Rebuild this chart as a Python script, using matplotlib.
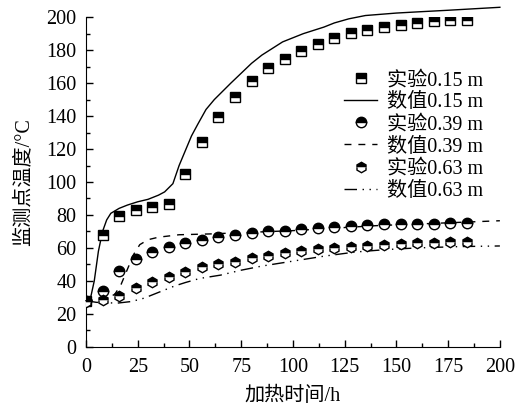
import numpy as np
import matplotlib
matplotlib.use('Agg')
import matplotlib.pyplot as plt
from matplotlib.ticker import MultipleLocator

plt.rcParams['font.family'] = ['Liberation Serif', 'Noto Sans CJK SC']
plt.rcParams['mathtext.fontset'] = 'stix'

# experimental measurements (sampled every 8 h)
t_exp = [0, 8, 16, 24, 32, 40, 48, 56, 64, 72, 80, 88, 96, 104,
         112, 120, 128, 136, 144, 152, 160, 168, 176, 184]
exp_015 = [28, 68, 79.5, 83, 85, 86.5, 105, 124.5, 139.5, 151.5, 161, 169,
           174.5, 179.5, 184, 187.5, 190.5, 192.5, 194, 195.5, 196.5, 197.5, 198, 198.5]
exp_039 = [28, 34, 46, 53.5, 57.5, 60.5, 63, 65, 66.5, 68, 69, 70,
           70.5, 71.5, 72, 72.5, 73.5, 74, 74.3, 74.5, 74.5, 74.7, 75, 75]
exp_063 = [27.5, 28.5, 31, 35.5, 39.2, 42.6, 45.6, 48.3, 50.1, 51.7, 54, 55.2,
           56.8, 58.2, 59.2, 59.8, 60.8, 61.2, 61.8, 62.4, 62.8, 63.2, 63.6, 63.6]

# numerical results
t_n015 = [0, 2, 4, 6, 8, 10, 12, 16, 20, 25, 30, 35, 38, 42, 45, 48, 51, 54,
          58, 62, 66, 70, 75, 80, 85, 90, 95, 100, 105, 110, 115, 120, 127,
          135, 150, 160, 175, 200]
num_015 = [28, 28.5, 40, 58, 70, 77, 81, 84, 86, 88, 89.5, 92, 94, 99, 110,
           119, 128, 135, 144, 150, 155, 160, 166, 172, 177, 181, 185, 187.5,
           190, 192, 194, 196.5, 199, 201, 202.5, 203.2, 204.2, 206]
t_n039 = [0, 10, 14, 17, 20, 23, 26, 30, 35, 45, 60, 80, 100, 120, 140, 160, 180, 200]
num_039 = [28, 29, 32, 38, 47, 56, 62, 65, 66.5, 68, 68.5, 69.5, 70.5, 72,
           73.5, 74.5, 75.5, 76.5]
t_n063 = [0, 5, 15, 22, 28, 33, 38, 43, 48, 55, 65, 75, 85, 100, 115, 130,
          145, 160, 180, 200]
num_063 = [28, 27, 26.5, 27.5, 29.5, 32, 34.5, 37, 39, 41.5, 43.5, 46.5, 49,
           52, 55, 57.5, 59, 60, 60.8, 61.2]

fig = plt.figure(figsize=(5.18, 4.09), dpi=100)
ax = fig.add_axes([0.166, 0.152, 0.799, 0.806])

mk = dict(color='black', markerfacecolor='black', markerfacecoloralt='white',
          markeredgecolor='black', fillstyle='top', markersize=7.5,
          markeredgewidth=1.0, linestyle='none', zorder=3)

ax.plot(t_exp, exp_015, marker='s', label='实验0.15 m', **mk)
ax.plot(t_n015, num_015, color='black', lw=1.0, label='数值0.15 m', clip_on=False)
ax.plot(t_exp, exp_039, marker='o', label='实验0.39 m', **mk)
ax.plot(t_n039, num_039, color='black', lw=1.0, dashes=(5, 5), label='数值0.39 m')
ax.plot(t_exp, exp_063, marker='h', label='实验0.63 m', **mk)
ax.plot(t_n063, num_063, color='black', lw=1.0, dashes=(9, 4, 1, 4, 1, 4),
        label='数值0.63 m')

ax.set_xlim(0, 200)
ax.set_ylim(0, 200)
ax.spines['top'].set_visible(False)
ax.spines['right'].set_visible(False)
ax.xaxis.set_major_locator(MultipleLocator(25))
ax.xaxis.set_minor_locator(MultipleLocator(12.5))
ax.yaxis.set_major_locator(MultipleLocator(20))
ax.yaxis.set_minor_locator(MultipleLocator(10))
ax.tick_params(which='both', direction='in', labelsize=14.5, width=1.0)
ax.tick_params(which='major', length=5)
ax.tick_params(axis='x', which='major', pad=8)
ax.tick_params(axis='y', which='major', pad=7)
ax.tick_params(which='minor', length=3)

ax.set_xlabel('加热时间/h', fontsize=14.5, labelpad=7)
ax.set_ylabel('监测点温度/°C', fontsize=14.5, labelpad=9)

ax.legend(loc='upper left', bbox_to_anchor=(0.605, 0.861), frameon=False,
          fontsize=14.5, handlelength=1.6, handletextpad=0.5,
          labelspacing=0.15, borderaxespad=0)

fig.savefig('out.png', dpi=100)
